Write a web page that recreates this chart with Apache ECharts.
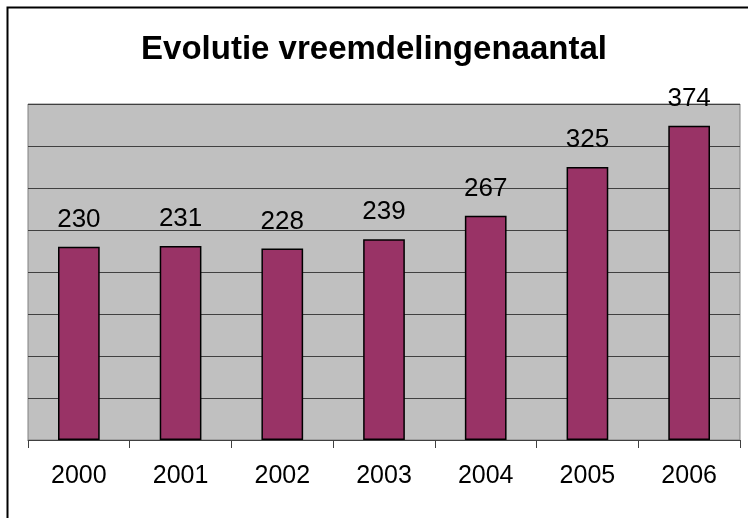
<!DOCTYPE html>
<html>
<head>
<meta charset="utf-8">
<script src="https://cdn.jsdelivr.net/npm/echarts@6/dist/echarts.min.js"></script>
<style>
  html, body { margin: 0; padding: 0; background: #fff; }
  #chart { width: 748px; height: 518px; }
</style>
</head>
<body>
<div id="chart"></div>
<script>
// jaren en aantallen
const years = ['2000', '2001', '2002', '2003', '2004', '2005', '2006'];
const counts = [230, 231, 228, 239, 267, 325, 374];

const chart = echarts.init(document.getElementById('chart'));
const font = 'Liberation Sans, Arial, sans-serif';

chart.setOption({
  animation: false,
  title: {
    text: 'Evolutie vreemdelingenaantal',
    left: 'center',
    top: 28,
    textStyle: { fontFamily: font, fontSize: 33, fontWeight: 'bold', color: '#000' }
  },
  graphic: [{
    type: 'rect',
    shape: { x: 7.5, y: 7.5, width: 760, height: 530 },
    style: { fill: 'none', stroke: '#000', lineWidth: 2 },
    z: 100
  }],
  grid: {
    left: 28, right: 8, top: 104, bottom: 78,
    show: true,
    backgroundColor: '#c0c0c0',
    borderColor: '#808080',
    borderWidth: 1
  },
  xAxis: {
    type: 'category',
    data: years,
    axisLine: { lineStyle: { color: '#404040', width: 1 } },
    axisTick: { show: true, alignWithLabel: false, length: 8, lineStyle: { color: '#404040' } },
    axisLabel: { fontFamily: font, fontSize: 25, color: '#000', margin: 24 }
  },
  yAxis: {
    type: 'value',
    min: 0, max: 400, interval: 50,
    axisLabel: { show: false },
    axisLine: { show: false },
    axisTick: { show: false },
    splitLine: { lineStyle: { color: '#404040', width: 1 } }
  },
  series: [{
    type: 'bar',
    data: counts,
    barWidth: '41%',
    itemStyle: { color: '#993366', borderColor: '#000', borderWidth: 1.5 },
    label: {
      show: true,
      position: 'top',
      distance: 14,
      fontFamily: font, fontSize: 26, color: '#000'
    }
  }]
});
</script>
</body>
</html>
